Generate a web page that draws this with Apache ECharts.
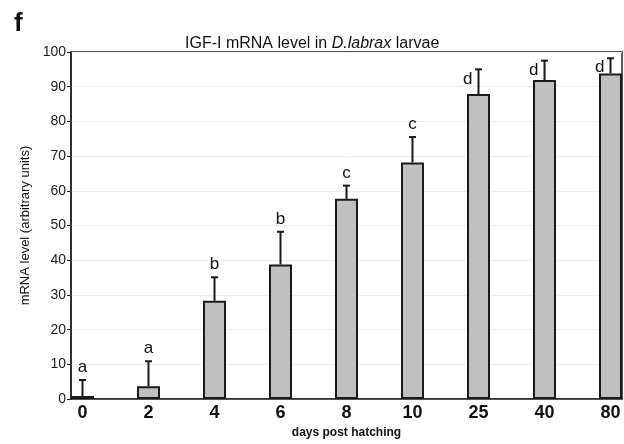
<!DOCTYPE html>
<html>
<head>
<meta charset="utf-8">
<script src="https://cdn.jsdelivr.net/npm/echarts@6/dist/echarts.min.js"></script>
<style>html,body{margin:0;padding:0;background:#fff;}#c{width:624px;height:444px;}</style>
</head>
<body>
<div id="c"></div>
<script>
var days = ['0', '2', '4', '6', '8', '10', '25', '40', '80'];
var meanLevel = [0.9, 3.7, 28.3, 38.8, 57.7, 68.2, 87.9, 91.9, 93.8];
var errLevel = [4.6, 7.2, 6.8, 9.4, 3.8, 7.3, 7.1, 5.6, 4.4];
var groupLetters = ['a', 'a', 'b', 'b', 'c', 'c', 'd', 'd', 'd'];
var yTicks = [0, 10, 20, 30, 40, 50, 60, 70, 80, 90, 100];

var FONT = "'Liberation Sans', Arial, Helvetica, sans-serif";
var idx = days.map(function (d, i) { return i; });
var barData = meanLevel.map(function (v, i) { return [i, v]; });
var errData = meanLevel.map(function (v, i) { return [i, v, v + errLevel[i]]; });

var chart = echarts.init(document.getElementById('c'), null, {renderer: 'canvas'});
chart.setOption({
  animation: false,
  backgroundColor: '#fff',
  title: [{
    text: 'IGF-I mRNA level in {i|D.labrax} larvae',
    left: 180, top: 31,
    textStyle: {
      fontFamily: FONT, fontSize: 16, fontWeight: 'normal', color: '#111',
      rich: { i: { fontFamily: FONT, fontSize: 16, fontStyle: 'italic', color: '#111' } }
    }
  }, {
    text: 'f', left: 9, top: 6,
    textStyle: { fontFamily: FONT, fontSize: 26, fontWeight: 'bold', color: '#111' }
  }],
  grid: { left: 71, right: 2, top: 52, bottom: 44, show: true, borderColor: '#222', borderWidth: 1.5, backgroundColor: 'transparent' },
  xAxis: {
    type: 'value', min: -0.174, max: 8.174,
    name: 'days post hatching', nameLocation: 'middle', nameGap: 19,
    nameTextStyle: { fontFamily: FONT, fontSize: 12, fontWeight: 'bold', color: '#111' },
    axisLine: { show: true, onZero: false, lineStyle: { color: '#222', width: 1.5 } },
    axisTick: { show: false },
    splitLine: { show: false },
    axisLabel: {
      customValues: idx, margin: 5,
      fontFamily: FONT, fontSize: 18, fontWeight: 'bold', color: '#111',
      formatter: function (v) { return days[Math.round(v)]; }
    }
  },
  yAxis: {
    type: 'value', min: 0, max: 100, interval: 10,
    name: 'mRNA level (arbitrary units)', nameLocation: 'middle', nameGap: 37,
    nameTextStyle: { fontFamily: FONT, fontSize: 13, color: '#111' },
    axisLine: { show: true, onZero: false, lineStyle: { color: '#222', width: 1.5 } },
    axisTick: { show: true, length: 4, lineStyle: { color: '#222' } },
    splitLine: { show: true, lineStyle: { color: '#eeeeee', width: 1 } },
    axisLabel: {
      margin: 5, fontFamily: FONT, fontSize: 14, color: '#1a1a1a',
      formatter: function (v) { return yTicks.indexOf(v) >= 0 ? String(v) : ''; }
    }
  },
  series: [{
    type: 'bar',
    data: barData,
    barWidth: 23,
    itemStyle: { color: '#c0c0c0', borderColor: '#1a1a1a', borderWidth: 2 },
    z: 2
  }, {
    type: 'custom',
    data: errData,
    z: 3,
    renderItem: function (params, api) {
      var i = api.value(0);
      var base = api.coord([i, api.value(1)]);
      var top = api.coord([i, api.value(2)]);
      var letter = groupLetters[params.dataIndex];
      var nearTop = api.value(2) > 90;
      var capHalf = 3.5;
      var label = nearTop ? {
        type: 'text',
        style: { text: letter, x: top[0] - 6, y: top[1] + 1, align: 'right', verticalAlign: 'top',
                 font: '17px ' + FONT, fill: '#111' }
      } : {
        type: 'text',
        style: { text: letter, x: top[0], y: top[1] - 4, align: 'center', verticalAlign: 'bottom',
                 font: '17px ' + FONT, fill: '#111' }
      };
      return {
        type: 'group',
        children: [{
          type: 'line',
          shape: { x1: top[0], y1: base[1], x2: top[0], y2: top[1] },
          style: { stroke: '#1a1a1a', lineWidth: 2 }
        }, {
          type: 'line',
          shape: { x1: top[0] - capHalf, y1: top[1], x2: top[0] + capHalf, y2: top[1] },
          style: { stroke: '#1a1a1a', lineWidth: 2 }
        }, label]
      };
    }
  }]
});
</script>
</body>
</html>
